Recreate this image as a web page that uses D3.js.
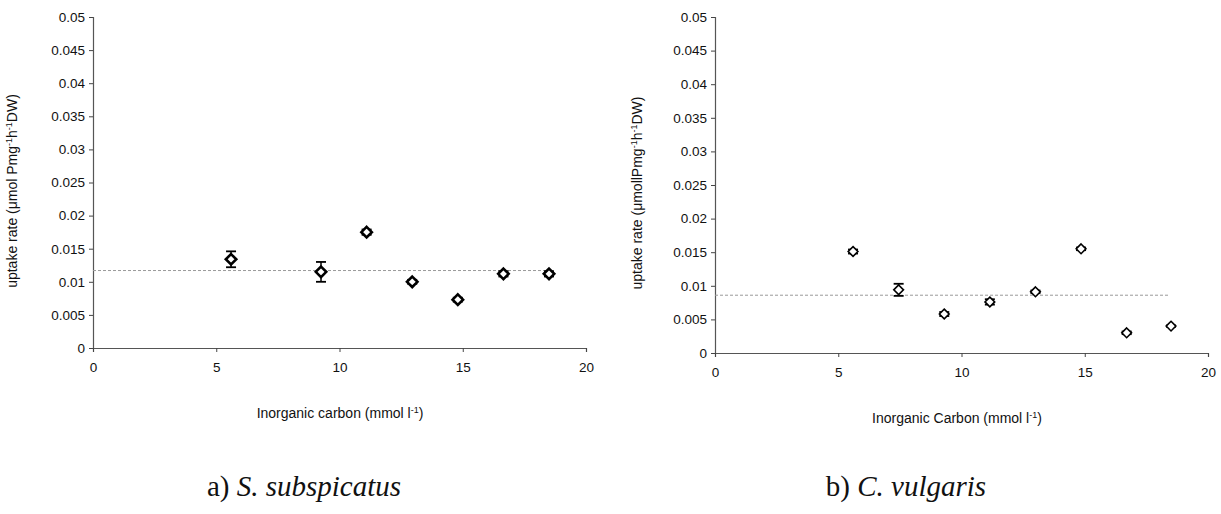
<!DOCTYPE html>
<html>
<head>
<meta charset="utf-8">
<script src="https://cdn.jsdelivr.net/npm/d3@7"></script>
<style>
  body { margin: 0; background: #fff; }
  svg text { font-family: Arial, "Liberation Sans", sans-serif; fill: #111; }
</style>
</head>
<body>
<script>
var W = 1221, H = 514;

// panel a) S. subspicatus
var carbonA = [5.6, 9.25, 11.1, 12.95, 14.8, 16.65, 18.5];
var uptakeA = [0.0134, 0.0115, 0.0175, 0.0100, 0.0073, 0.0112, 0.0112];
var errA    = [0.0012, 0.0015, 0.0004, 0.0003, 0.0003, 0.0004, 0.0004];
var meanA = 0.0117;

// panel b) C. vulgaris
var carbonB = [5.6, 7.45, 9.3, 11.15, 13.0, 14.85, 16.7, 18.5];
var uptakeB = [0.0151, 0.0094, 0.0058, 0.0076, 0.0091, 0.0155, 0.0030, 0.0040];
var errB    = [0.0003, 0.0009, 0.0003, 0.0004, 0.0002, 0.0002, 0.0002, 0.0001];
var meanB = 0.0086;

var xTicks = [0, 5, 10, 15, 20];
var yTicks = [0, 0.005, 0.01, 0.015, 0.02, 0.025, 0.03, 0.035, 0.04, 0.045, 0.05];

var svg = d3.select('body').append('svg')
    .attr('width', W)
    .attr('height', H);

var makePanel = function(opt){
  var x = d3.scaleLinear().domain([0, 20]).range([opt.left, opt.right]);
  var y = d3.scaleLinear().domain([0, 0.05]).range([opt.bottom, opt.top]);
  var g = svg.append('g');

  var yAxis = g.append('g')
      .attr('transform', 'translate(' + opt.left + ',0)')
      .call(d3.axisLeft(y).tickValues(yTicks).tickSize(4).tickPadding(4)
        .tickFormat(function(d){ return d3.format('')(+d.toFixed(3)); }));
  var xAxis = g.append('g')
      .attr('transform', 'translate(0,' + opt.bottom + ')')
      .call(d3.axisBottom(x).tickValues(xTicks).tickSize(4).tickPadding(10));
  [xAxis, yAxis].forEach(function(a){
    a.select('.domain').attr('stroke', '#555').attr('stroke-width', 1.2);
    a.selectAll('.tick line').attr('stroke', '#444');
    a.selectAll('.tick text').attr('font-size', 13.5).attr('fill', '#111');
  });

  // mean line
  g.append('line')
      .attr('x1', x(0)).attr('x2', x(opt.meanEnd))
      .attr('y1', y(opt.mean)).attr('y2', y(opt.mean))
      .attr('stroke', '#999').attr('stroke-width', 1)
      .attr('stroke-dasharray', '3,2');

  var pts = opt.xs.map(function(v, i){
    return {x: v, y: opt.ys[i], e: opt.es[i]};
  });

  var bars = g.selectAll('.err').data(pts).enter().append('g').attr('class', 'err');
  bars.append('line')
      .attr('x1', function(d){ return x(d.x); })
      .attr('x2', function(d){ return x(d.x); })
      .attr('y1', function(d){ return y(d.y - d.e); })
      .attr('y2', function(d){ return y(d.y + d.e); })
      .attr('stroke', '#000').attr('stroke-width', 1.5);
  [-1, 1].forEach(function(s){
    bars.append('line')
        .attr('x1', function(d){ return x(d.x) - 5; })
        .attr('x2', function(d){ return x(d.x) + 5; })
        .attr('y1', function(d){ return y(d.y + s * d.e); })
        .attr('y2', function(d){ return y(d.y + s * d.e); })
        .attr('stroke', '#000').attr('stroke-width', 1.8);
  });

  g.selectAll('.pt').data(pts).enter().append('path')
      .attr('class', 'pt')
      .attr('d', d3.symbol().type(d3.symbolDiamond2).size(opt.symSize))
      .attr('transform', function(d){ return 'translate(' + x(d.x) + ',' + y(d.y) + ')'; })
      .attr('fill', '#fff')
      .attr('stroke', '#000')
      .attr('stroke-width', opt.symStroke);

  // axis titles
  g.append('text')
      .attr('transform', 'translate(' + opt.yTitleX + ',' + opt.yTitleY + ') rotate(-90)')
      .attr('text-anchor', 'middle')
      .attr('font-size', 14)
      .html(opt.yTitle);
  g.append('text')
      .attr('x', opt.xTitleX)
      .attr('y', opt.bottom + 70)
      .attr('text-anchor', 'middle')
      .attr('font-size', 14)
      .html(opt.xTitle);

  svg.append('text')
      .attr('x', opt.capX)
      .attr('y', 496)
      .attr('text-anchor', 'middle')
      .attr('font-size', 29)
      .style('font-family', '"Liberation Serif", "Times New Roman", serif')
      .html(opt.caption);
};

makePanel({
  left: 93, right: 586, top: 17, bottom: 348,
  xs: carbonA, ys: uptakeA, es: errA, mean: meanA, meanEnd: 18.5,
  symSize: 70, symStroke: 2.6,
  yTitleX: 17, yTitleY: 191,
  yTitle: 'uptake rate (μmol Pmg<tspan dy="-5" font-size="9">-1</tspan><tspan dy="5">h</tspan><tspan dy="-5" font-size="9">-1</tspan><tspan dy="5">DW)</tspan>',
  xTitleX: 340,
  xTitle: 'Inorganic carbon (mmol l<tspan dy="-5" font-size="9">-1</tspan><tspan dy="5">)</tspan>',
  capX: 304,
  caption: 'a) <tspan font-style="italic">S. subspicatus</tspan>'
});

makePanel({
  left: 715, right: 1208, top: 17, bottom: 353,
  xs: carbonB, ys: uptakeB, es: errB, mean: meanB, meanEnd: 18.4,
  symSize: 60, symStroke: 1.6,
  yTitleX: 642, yTitleY: 193,
  yTitle: 'uptake rate (μmollPmg<tspan dy="-5" font-size="9">-1</tspan><tspan dy="5">h</tspan><tspan dy="-5" font-size="9">-1</tspan><tspan dy="5">DW)</tspan>',
  xTitleX: 957,
  xTitle: 'Inorganic Carbon (mmol l<tspan dy="-5" font-size="9">-1</tspan><tspan dy="5">)</tspan>',
  capX: 906,
  caption: 'b) <tspan font-style="italic">C. vulgaris</tspan>'
});
</script>
</body>
</html>
